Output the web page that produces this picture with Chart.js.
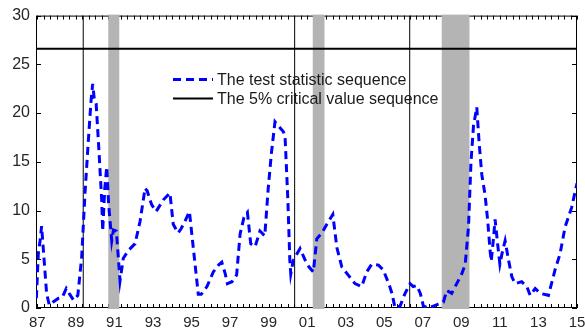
<!DOCTYPE html>
<html lang="en">

<head>
    <meta charset="UTF-8">
    <title>Test statistic sequence</title>
    <style>
        body {
            margin: 0;
            padding: 0;
            background: #ffffff;
        }

        #wrap {
            width: 585px;
            height: 329px;
        }
    </style>
</head>

<body>
    <div id="wrap">
        <canvas id="chart" width="585" height="329"></canvas>
    </div>

    <script src="https://cdn.jsdelivr.net/npm/chart.js"></script>
    <script>
        // Data (x in decimal years)
        const years = [
            1986.95, 1987.05, 1987.15, 1987.22, 1987.48, 1987.62, 1987.8, 1988.1, 1988.3, 1988.5,
            1988.65, 1988.88, 1989.1, 1989.3, 1989.47, 1989.64, 1989.78, 1989.87, 1989.95, 1990.05,
            1990.2, 1990.34, 1990.39, 1990.5, 1990.6, 1990.7, 1990.86, 1990.95, 1991.1, 1991.29,
            1991.46, 1991.72, 1992.07, 1992.33, 1992.59, 1992.7, 1992.93, 1993.16, 1993.54, 1993.88,
            1994.05, 1994.3, 1994.45, 1994.66, 1994.89, 1995.35, 1995.5, 1995.8, 1996.13, 1996.4,
            1996.57, 1996.75, 1996.86, 1997.1, 1997.34, 1997.52, 1997.72, 1997.9, 1998.07, 1998.3,
            1998.55, 1998.8, 1998.98, 1999.15, 1999.33, 1999.45, 1999.76, 1999.85, 2000.0, 2000.1,
            2000.15, 2000.28, 2000.63, 2000.9, 2001.1, 2001.32, 2001.5, 2001.76, 2002.02, 2002.33,
            2002.54, 2002.8, 2003.14, 2003.48, 2003.83, 2004.09, 2004.35, 2004.7, 2004.95, 2005.26,
            2005.4, 2005.56, 2005.82, 2006.08, 2006.34, 2006.5, 2006.69, 2006.87, 2007.03, 2007.29,
            2007.55, 2007.8, 2008.07, 2008.24, 2008.5, 2008.76, 2009.02, 2009.2, 2009.37, 2009.5,
            2009.63, 2009.72, 2009.8, 2009.92, 2010.06, 2010.23, 2010.37, 2010.49, 2010.55, 2010.67,
            2010.75, 2010.88, 2011.0, 2011.1, 2011.27, 2011.45, 2011.62, 2011.79, 2012.13, 2012.4,
            2012.57, 2012.83, 2013.1, 2013.52, 2013.86, 2014.12, 2014.38, 2014.72, 2015.0
        ];
        const testStat = [
            1.0, 5.6, 7.0, 8.4, 1.5, 0.3, 0.6, 1.0, 1.1, 2.0,
            1.5, 0.8, 1.3, 5.2, 11.7, 17.0, 21.1, 23.0, 21.5, 21.0,
            16.0, 11.0, 7.9, 12.3, 14.5, 10.6, 6.9, 8.0, 7.9, 2.8,
            5.1, 5.9, 6.6, 8.9, 12.3, 12.0, 10.6, 9.9, 11.1, 11.8,
            8.6, 7.7, 8.1, 8.9, 9.9, 1.4, 1.4, 2.2, 3.7, 4.4,
            4.7, 3.5, 2.5, 2.7, 3.4, 7.6, 9.3, 9.8, 6.6, 6.3,
            7.9, 7.4, 12.3, 16.0, 19.1, 18.8, 18.1, 17.7, 11.0, 4.9,
            3.5, 4.9, 6.1, 4.9, 4.2, 3.7, 7.1, 7.7, 8.6, 9.6,
            6.2, 4.2, 3.35, 2.5, 2.2, 3.7, 4.5, 4.4, 3.9, 2.35,
            1.5, 0.0, 0.2, 1.5, 2.5, 2.2, 2.3, 1.5, 0.2, 0.0,
            0.2, 0.4, 0.6, 1.8, 1.5, 2.5, 3.5, 4.5, 8.3, 15.0,
            18.7, 19.7, 20.6, 17.0, 13.7, 11.6, 8.9, 5.9, 4.8, 7.2,
            9.1, 6.6, 4.5, 5.5, 6.9, 4.9, 3.2, 2.5, 2.7, 2.2,
            1.3, 2.0, 1.5, 1.3, 3.9, 5.55, 8.3, 10.3, 12.8
        ];

        // 5% critical value (flat)
        const critYears = [1986.93, 2015.0];
        const critValue = [26.6, 26.6];

        // vertical break lines and shaded periods
        const breakYears = [1989.38, 2000.35, 2006.32];
        const shadedPeriods = [[1990.68, 1991.25], [2001.29, 2001.9], [2007.98, 2009.42]];

        // axis labels
        const xTickYears = [1987, 1989, 1991, 1993, 1995, 1997, 1999, 2001, 2003, 2005, 2007, 2009, 2011, 2013, 2015];
        const yTicks = [0, 5, 10, 15, 20, 25, 30];

        const legendLabels = ['The test statistic sequence', 'The 5% critical value sequence'];

        const FONT = '"Liberation Sans", Arial, sans-serif';

        // minor x ticks, every 4 months
        const xMinor = [];
        for (let k = 0; 1987 + k / 3 <= 2015.001; k++) xMinor.push(1987 + k / 3);

        const datasets = [{
            data: years.map((x, i) => ({ x: x, y: testStat[i] })),
            borderColor: '#0000ff',
            borderWidth: 3,
            borderDash: [8, 5],
            pointRadius: 0,
            tension: 0,
            fill: false
        }, {
            data: critYears.map((x, i) => ({ x: x, y: critValue[i] })),
            borderColor: '#000000',
            borderWidth: 2,
            pointRadius: 0,
            fill: false
        }];

        breakYears.forEach(b => {
            datasets.push({
                data: [{ x: b, y: 0 }, { x: b, y: 30 }],
                borderColor: '#000000',
                borderWidth: 1,
                pointRadius: 0,
                fill: false
            });
        });

        // box, inward ticks and the grey bands (bands sit over the box like the original)
        const framePlugin = {
            id: 'frame',
            beforeDatasetsDraw(chart) {
                const c = chart.ctx;
                const a = chart.chartArea;
                const xs = chart.scales.x;
                const ys = chart.scales.y;
                c.save();
                c.strokeStyle = '#000';
                c.lineWidth = 1;
                c.strokeRect(a.left + 0.5, a.top + 0.5, a.right - a.left - 1, a.bottom - a.top - 1);
                c.beginPath();
                yTicks.forEach(v => {
                    const py = Math.round(ys.getPixelForValue(v)) + 0.5;
                    c.moveTo(a.left, py); c.lineTo(a.left + 5, py);
                    c.moveTo(a.right, py); c.lineTo(a.right - 5, py);
                });
                xMinor.forEach(v => {
                    const px = Math.round(xs.getPixelForValue(v)) + 0.5;
                    c.moveTo(px, a.bottom); c.lineTo(px, a.bottom - 4);
                    c.moveTo(px, a.top); c.lineTo(px, a.top + 4);
                });
                c.stroke();

                c.fillStyle = '#b4b4b4';
                shadedPeriods.forEach(p => {
                    const x0 = xs.getPixelForValue(p[0]);
                    const x1 = xs.getPixelForValue(p[1]);
                    c.fillRect(x0, a.top - 1, x1 - x0, a.bottom - a.top + 2);
                });
                c.restore();
            }
        };

        // legend drawn inside the plot
        const legendPlugin = {
            id: 'innerLegend',
            afterDraw(chart) {
                const c = chart.ctx;
                const a = chart.chartArea;
                const x0 = a.left + 137;
                const y0 = a.top + 64;
                c.save();
                c.font = '16px ' + FONT;
                c.textBaseline = 'middle';
                c.fillStyle = '#1a1a1a';
                legendLabels.forEach((txt, i) => {
                    const ds = chart.data.datasets[i];
                    const y = y0 + i * 19;
                    c.strokeStyle = ds.borderColor;
                    c.lineWidth = ds.borderWidth;
                    c.setLineDash(ds.borderDash || []);
                    c.beginPath();
                    c.moveTo(x0, y);
                    c.lineTo(x0 + 40, y);
                    c.stroke();
                    c.fillText(txt, x0 + 44, y + 1);
                });
                c.restore();
            }
        };

        new Chart(document.getElementById('chart'), {
            type: 'line',
            data: { datasets: datasets },
            options: {
                responsive: false,
                animation: false,
                devicePixelRatio: 1,
                layout: { padding: { top: 13, right: 8, left: 0, bottom: 0 } },
                plugins: {
                    legend: { display: false },
                    tooltip: { enabled: false }
                },
                scales: {
                    x: {
                        type: 'linear',
                        min: 1986.93,
                        max: 2015.0,
                        grid: { display: false, drawTicks: false },
                        border: { display: false },
                        afterBuildTicks: s => { s.ticks = xTickYears.map(v => ({ value: v })); },
                        afterFit: s => { s.height = 21; s.paddingLeft = 0; s.paddingRight = 0; },
                        ticks: {
                            autoSkip: false,
                            maxRotation: 0,
                            padding: 6,
                            color: '#262626',
                            font: { family: FONT, size: 15 },
                            callback: v => String(v % 100).padStart(2, '0')
                        }
                    },
                    y: {
                        min: 0,
                        max: 30,
                        grid: { display: false, drawTicks: false },
                        border: { display: false },
                        afterBuildTicks: s => { s.ticks = yTicks.map(v => ({ value: v })); },
                        afterFit: s => { s.width = 36; },
                        ticks: {
                            padding: 6,
                            color: '#262626',
                            font: { family: FONT, size: 16 }
                        }
                    }
                }
            },
            plugins: [framePlugin, legendPlugin]
        });
    </script>
</body>

</html>
